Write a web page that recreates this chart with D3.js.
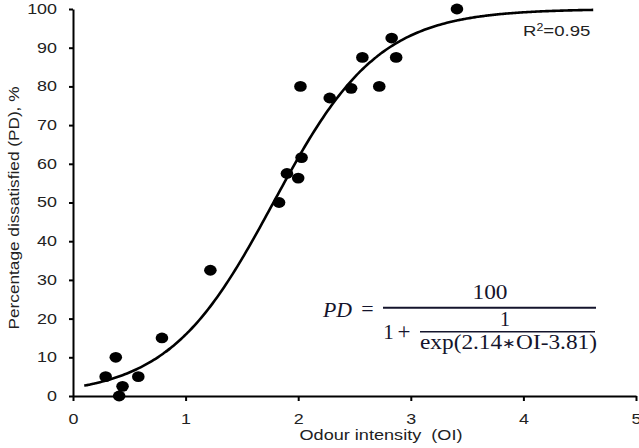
<!DOCTYPE html>
<html>
<head>
<meta charset="utf-8">
<script src="https://cdn.jsdelivr.net/npm/d3@7"></script>
<style>
  body { margin: 0; background: #fff; }
  svg { display: block; }
</style>
</head>
<body>
<svg id="chart" width="639" height="448"></svg>
<script>
// Données
const odourIntensity = [0.29, 0.38, 0.41, 0.44, 0.58, 0.79, 1.22, 1.83, 1.90, 2.00, 2.02, 2.03, 2.28, 2.47, 2.57, 2.72, 2.83, 2.87, 3.41];
const percentDissatisfied = [5, 10, 0, 2.5, 5, 15, 32.5, 50, 57.5, 56.3, 80, 61.6, 77, 79.5, 87.5, 80, 92.5, 87.5, 100];

// courbe ajustée : PD = 100 / (1 + 1/exp(a*OI - b))
const fitA = 2.14;
const fitB = 3.81;
const fitRange = [0.1, 4.62];

const xTicks = [0, 1, 2, 3, 4, 5];
const yTicks = [0, 10, 20, 30, 40, 50, 60, 70, 80, 90, 100];

const xLabel = "Odour intensity  (OI)";
const yLabel = "Percentage dissatisfied (PD), %";

const svg = d3.select("#chart");
const stretch = 1.28; // le texte de la figure est étiré horizontalement

const x = d3.scaleLinear().domain([0, 5]).range([73, 636]);
const y = d3.scaleLinear().domain([0, 100]).range([396, 9]);

// Axes
const xAxis = svg.append("g")
    .attr("transform", "translate(0," + y(0) + ")")
    .call(d3.axisBottom(x).tickValues(xTicks).tickFormat(d3.format("d"))
        .tickSize(5).tickSizeOuter(0).tickPadding(13));

const yAxis = svg.append("g")
    .attr("transform", "translate(" + x(0) + ",0)")
    .call(d3.axisLeft(y).tickValues(yTicks).tickFormat(d3.format("d"))
        .tickSize(4).tickSizeOuter(0).tickPadding(12));

[xAxis, yAxis].forEach(a => {
    a.select(".domain").attr("stroke", "#000").attr("stroke-width", 2);
    a.selectAll(".tick line").attr("stroke", "#000").attr("stroke-width", 2);
    a.selectAll(".tick text")
        .attr("fill", "#222")
        .style("font-family", "Liberation Sans, Arial, sans-serif")
        .style("font-size", "14px");
});
xAxis.selectAll(".tick text").attr("transform", "scale(" + stretch + ",1)");
yAxis.selectAll(".tick text")
    .attr("x", -16 / stretch)
    .attr("transform", "scale(" + stretch + ",1)");

// Titres des axes
svg.append("text")
    .attr("transform", "translate(381,440) scale(" + stretch + ",1)")
    .attr("text-anchor", "middle")
    .style("font-family", "Liberation Sans, Arial, sans-serif")
    .style("font-size", "14px")
    .attr("fill", "#222")
    .attr("textLength", 163 / stretch)
    .attr("lengthAdjust", "spacingAndGlyphs")
    .attr("xml:space", "preserve")
    .text(xLabel);

svg.append("text")
    .attr("transform", "translate(19,208) rotate(-90)")
    .attr("text-anchor", "middle")
    .style("font-family", "Liberation Sans, Arial, sans-serif")
    .style("font-size", "15.5px")
    .attr("fill", "#222")
    .attr("textLength", 243)
    .attr("lengthAdjust", "spacingAndGlyphs")
    .text(yLabel);

// Courbe
const curvePts = d3.range(fitRange[0], fitRange[1] + 0.001, 0.02)
    .map(oi => [oi, 100 / (1 + 1 / Math.exp(fitA * oi - fitB))]);

svg.append("path")
    .datum(curvePts)
    .attr("fill", "none")
    .attr("stroke", "#000")
    .attr("stroke-width", 2.6)
    .attr("d", d3.line().x(d => x(d[0])).y(d => y(d[1])).curve(d3.curveBasis));

// Points
svg.selectAll("ellipse")
    .data(odourIntensity)
    .enter()
    .append("ellipse")
    .attr("cx", (d) => x(d))
    .attr("cy", (d, i) => y(percentDissatisfied[i]))
    .attr("rx", 6.3)
    .attr("ry", 5.4)
    .attr("fill", "#000");

// R²
const r2 = svg.append("text")
    .attr("transform", "translate(523,36) scale(1.24,1)")
    .style("font-family", "Liberation Sans, Arial, sans-serif")
    .style("font-size", "15px")
    .attr("fill", "#222");
r2.append("tspan").text("R");
r2.append("tspan").attr("dy", -5).style("font-size", "10px").text("2");
r2.append("tspan").attr("dy", 5).text("=0.95");

// Équation
const eqFont = "Liberation Serif, Times New Roman, serif";
const eqColor = "#14142c";
const eq = svg.append("g").attr("fill", eqColor).style("font-family", eqFont);

eq.append("text")
    .attr("x", 323).attr("y", 317)
    .style("font-size", "22px").style("font-style", "italic")
    .attr("textLength", 29).attr("lengthAdjust", "spacingAndGlyphs")
    .text("PD");
eq.append("text")
    .attr("x", 367.5).attr("y", 316).attr("text-anchor", "middle")
    .style("font-size", "22px")
    .text("=");
eq.append("text")
    .attr("x", 490).attr("y", 299).attr("text-anchor", "middle")
    .style("font-size", "21px")
    .attr("textLength", 35).attr("lengthAdjust", "spacingAndGlyphs")
    .text("100");
eq.append("line")
    .attr("x1", 383).attr("x2", 596).attr("y1", 307.7).attr("y2", 307.7)
    .attr("stroke", eqColor).attr("stroke-width", 2);
eq.append("text")
    .attr("x", 388.5).attr("y", 339).attr("text-anchor", "middle")
    .style("font-size", "21px")
    .text("1");
eq.append("text")
    .attr("x", 404).attr("y", 339).attr("text-anchor", "middle")
    .style("font-size", "23px")
    .text("+");
eq.append("text")
    .attr("x", 505).attr("y", 326).attr("text-anchor", "middle")
    .style("font-size", "20px")
    .text("1");
eq.append("line")
    .attr("x1", 420).attr("x2", 595).attr("y1", 331.7).attr("y2", 331.7)
    .attr("stroke", eqColor).attr("stroke-width", 1.6);
const expr = eq.append("text")
    .attr("x", 420).attr("y", 349)
    .style("font-size", "20px")
    .attr("textLength", 177).attr("lengthAdjust", "spacingAndGlyphs");
expr.append("tspan").text("exp(2.14");
expr.append("tspan").style("font-size", "14px").attr("dy", -1).text("\u2217");
expr.append("tspan").attr("dy", 1).text("OI-3.81)");
</script>
</body>
</html>
